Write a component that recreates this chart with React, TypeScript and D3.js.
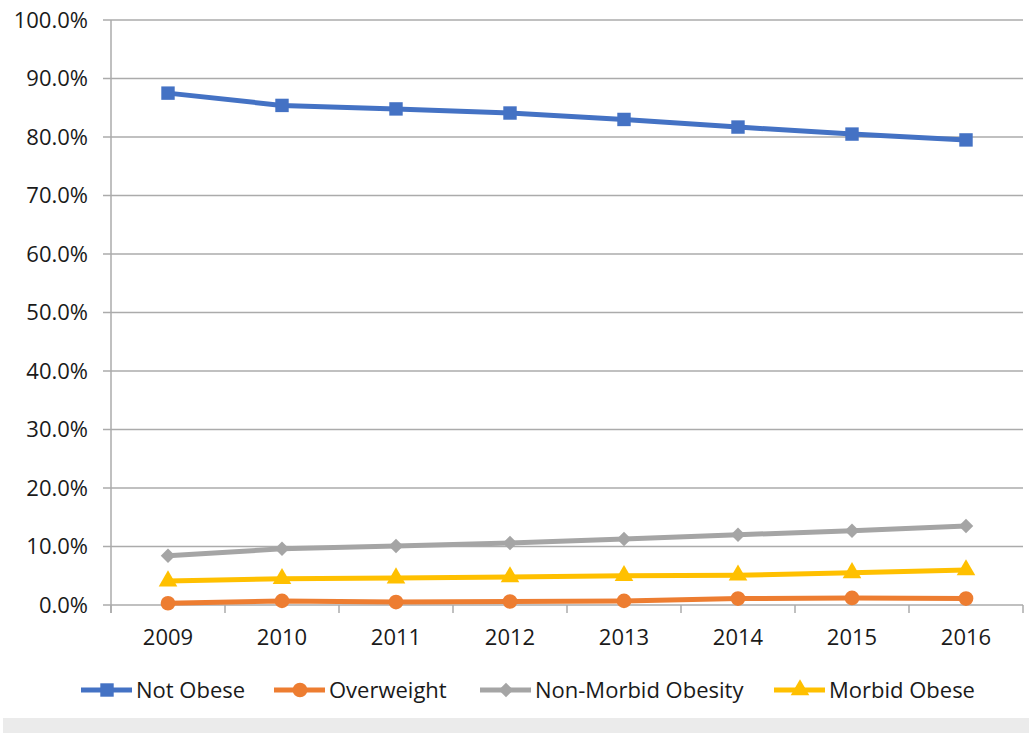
import { useRef, useEffect } from "react";
import * as d3 from "d3";

const WIDTH = 1029;
const HEIGHT = 733;
const TOP = 20;
const BOTTOM = 605;
const LEFT = 111;
const RIGHT = 1023;

const YEARS = ["2009", "2010", "2011", "2012", "2013", "2014", "2015", "2016"];
const Y_TICKS = [0, 10, 20, 30, 40, 50, 60, 70, 80, 90, 100];

const NOT_OBESE = [87.5, 85.4, 84.8, 84.1, 83.0, 81.7, 80.5, 79.5];
const OVERWEIGHT = [0.3, 0.7, 0.5, 0.6, 0.7, 1.1, 1.2, 1.1];
const NON_MORBID = [8.4, 9.6, 10.1, 10.6, 11.3, 12.0, 12.7, 13.5];
const MORBID = [4.1, 4.5, 4.6, 4.8, 5.0, 5.1, 5.5, 6.0];

// diamond = square rotated 45deg, like Excel's marker
const SERIES = [
  { name: "Not Obese", values: NOT_OBESE, color: "#4472C4", symbol: d3.symbolSquare, size: 180, rot: 0, legendX: 81 },
  { name: "Overweight", values: OVERWEIGHT, color: "#ED7D31", symbol: d3.symbolCircle, size: 170, rot: 0, legendX: 274 },
  { name: "Non-Morbid Obesity", values: NON_MORBID, color: "#A5A5A5", symbol: d3.symbolSquare, size: 105, rot: 45, legendX: 480 },
  { name: "Morbid Obese", values: MORBID, color: "#FFC000", symbol: d3.symbolTriangle, size: 150, rot: 0, legendX: 774 },
];

const FONT = "'Open Sans', sans-serif";
const FS = 22;

export default function App() {
  const svgRef = useRef<SVGSVGElement>(null);

  useEffect(() => {
    const svg = d3.select(svgRef.current);
    svg.selectAll("*").remove();

    const x = d3.scaleBand<string>().domain(YEARS).range([LEFT, RIGHT]);
    const y = d3.scaleLinear([0, 100], [BOTTOM, TOP]);

    svg.append("rect").attr("width", WIDTH).attr("height", HEIGHT).attr("fill", "#fff");
    svg.append("rect").attr("x", 3).attr("y", 718).attr("width", WIDTH - 3).attr("height", HEIGHT - 718).attr("fill", "#ebebeb");

    // gridlines + y labels
    const gy = svg.append("g");
    gy.selectAll("line")
      .data(Y_TICKS)
      .join("line")
      .attr("x1", LEFT - 8)
      .attr("x2", RIGHT)
      .attr("y1", d => y(d))
      .attr("y2", d => y(d))
      .attr("stroke", "#ababab")
      .attr("stroke-width", 1.5);
    gy.selectAll("text")
      .data(Y_TICKS)
      .join("text")
      .attr("x", 88)
      .attr("y", d => y(d))
      .attr("dy", "0.36em")
      .attr("text-anchor", "end")
      .attr("font-family", FONT)
      .attr("font-size", FS)
      .attr("fill", "#1a1a1a")
      .text(d => d.toFixed(1) + "%");

    // axes
    svg.append("line")
      .attr("x1", LEFT).attr("x2", LEFT)
      .attr("y1", TOP).attr("y2", BOTTOM + 8)
      .attr("stroke", "#ababab").attr("stroke-width", 1.5);
    const bounds = YEARS.map(d => x(d)! + x.bandwidth()).concat([LEFT]);
    svg.append("g").selectAll("line")
      .data(bounds)
      .join("line")
      .attr("x1", d => d).attr("x2", d => d)
      .attr("y1", BOTTOM).attr("y2", BOTTOM + 8)
      .attr("stroke", "#ababab").attr("stroke-width", 1.5);
    svg.append("g").selectAll("text")
      .data(YEARS)
      .join("text")
      .attr("x", d => x(d)! + x.bandwidth() / 2)
      .attr("y", 645)
      .attr("text-anchor", "middle")
      .attr("font-family", FONT)
      .attr("font-size", FS)
      .attr("fill", "#1a1a1a")
      .text(d => d);

    const line = d3.line<number>()
      .x((_, i) => x(YEARS[i])! + x.bandwidth() / 2)
      .y(d => y(d));

    SERIES.forEach(s => {
      const g = svg.append("g");
      g.append("path")
        .attr("d", line(s.values))
        .attr("fill", "none")
        .attr("stroke", s.color)
        .attr("stroke-width", 5)
        .attr("stroke-linejoin", "round");
      g.selectAll("path.m")
        .data(s.values)
        .join("path")
        .attr("class", "m")
        .attr("d", d3.symbol(s.symbol, s.size)())
        .attr("transform", (d, i) => `translate(${x(YEARS[i])! + x.bandwidth() / 2},${y(d)}) rotate(${s.rot})`)
        .attr("fill", s.color);
    });

    // legend
    const ly = 690;
    const lg = svg.append("g");
    SERIES.forEach(s => {
      lg.append("line")
        .attr("x1", s.legendX).attr("x2", s.legendX + 51)
        .attr("y1", ly).attr("y2", ly)
        .attr("stroke", s.color).attr("stroke-width", 5);
      lg.append("path")
        .attr("d", d3.symbol(s.symbol, s.size)())
        .attr("transform", `translate(${s.legendX + 26},${ly}) rotate(${s.rot})`)
        .attr("fill", s.color);
      lg.append("text")
        .attr("x", s.legendX + 55)
        .attr("y", ly)
        .attr("dy", "0.36em")
        .attr("font-family", FONT)
        .attr("font-size", FS)
        .attr("fill", "#1a1a1a")
        .text(s.name);
    });
  }, []);

  return (
    <svg
      ref={svgRef}
      width={WIDTH}
      height={HEIGHT}
      style={{ position: "absolute", left: 0, top: 0 }}
    />
  );
}
